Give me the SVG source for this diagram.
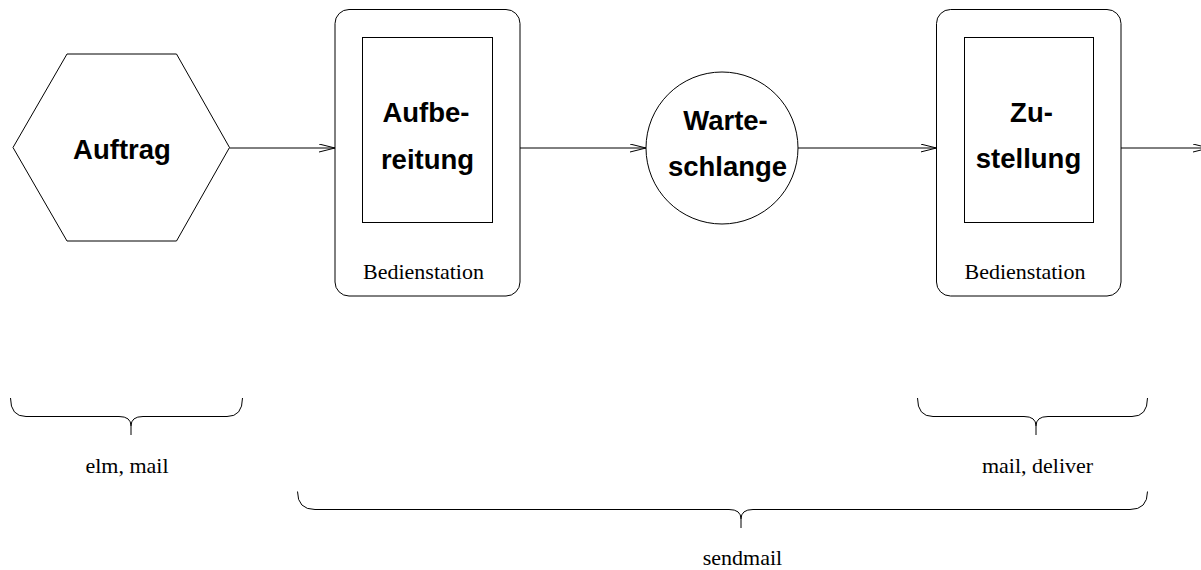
<svg xmlns="http://www.w3.org/2000/svg" width="1201" height="570" viewBox="0 0 1201 570">
  <style>
    .shape { fill: none; stroke: #000; stroke-width: 1; }
    .title { font-family: "Liberation Sans", Arial, sans-serif; font-weight: bold; font-size: 27.5px; fill: #000; text-anchor: middle; }
    .label { font-family: "Liberation Serif", "Times New Roman", serif; font-size: 22px; fill: #000; text-anchor: middle; }
    .edge { fill: none; stroke: #000; stroke-width: 1; }
  </style>
  <defs>
    <marker id="open-arrow" markerUnits="userSpaceOnUse" markerWidth="18" markerHeight="10" refX="16" refY="4.5" orient="auto">
      <path d="M0,0.5 L16,4.5 L0,8.5" fill="none" stroke="#000" stroke-width="1"/>
    </marker>
  </defs>
  <rect width="1201" height="570" fill="#fff"/>

  <!-- job: hexagon -->
  <g id="auftrag">
    <polygon class="shape" points="13,147.5 67,54 176.5,54 229.5,147.5 176.5,241 67,241"/>
    <text class="title" x="122" y="158.5">Auftrag</text>
  </g>

  <!-- first service station -->
  <g id="aufbereitung">
    <rect class="shape" x="335" y="9.5" width="185" height="286.5" rx="14" ry="14"/>
    <rect class="shape" x="362.5" y="37.5" width="130" height="185"/>
    <text class="title" x="426" y="122">Aufbe-</text>
    <text class="title" x="427.5" y="168.5">reitung</text>
    <text class="label" x="423.5" y="279">Bedienstation</text>
  </g>

  <!-- queue -->
  <g id="warteschlange">
    <circle class="shape" cx="722" cy="148" r="76"/>
    <text class="title" x="725.5" y="129.5">Warte-</text>
    <text class="title" x="727.5" y="176">schlange</text>
  </g>

  <!-- second service station -->
  <g id="zustellung">
    <rect class="shape" x="936.5" y="9.5" width="184.5" height="286.5" rx="14" ry="14"/>
    <rect class="shape" x="964.5" y="37.5" width="129" height="185"/>
    <text class="title" x="1031.5" y="121.5">Zu-</text>
    <text class="title" x="1028.5" y="167.5">stellung</text>
    <text class="label" x="1025" y="279">Bedienstation</text>
  </g>

  <!-- program braces -->
  <g id="brace-elm">
    <path class="shape" d="M10.5,398 Q10.5,416.5 26,416.5 L119,416.5 Q131,416.5 131,426 L131,435 M131,426 Q131,416.5 143,416.5 L227,416.5 Q242.5,416.5 242.5,398"/>
    <text class="label" x="127" y="473">elm, mail</text>
  </g>
  <g id="brace-deliver">
    <path class="shape" d="M917.5,398 Q917.5,416.5 933,416.5 L1024,416.5 Q1036,416.5 1036,426 L1036,435 M1036,426 Q1036,416.5 1048,416.5 L1132,416.5 Q1147.5,416.5 1147.5,398"/>
    <text class="label" x="1037.5" y="473">mail, deliver</text>
  </g>
  <g id="brace-sendmail">
    <path class="shape" d="M297.5,491.5 Q297.5,509.5 315,509.5 L729,509.5 Q741,509.5 741,519 L741,528 M741,519 Q741,509.5 753,509.5 L1130,509.5 Q1147.5,509.5 1147.5,491.5"/>
    <text class="label" x="742.5" y="565">sendmail</text>
  </g>

  <!-- flow connectors -->
  <g id="connectors">
    <line class="edge" x1="229.5" y1="148" x2="335" y2="148" marker-end="url(#open-arrow)"/>
    <line class="edge" x1="520" y1="148" x2="646" y2="148" marker-end="url(#open-arrow)"/>
    <line class="edge" x1="798" y1="148" x2="936.5" y2="148" marker-end="url(#open-arrow)"/>
    <line class="edge" x1="1121" y1="148" x2="1209" y2="148" marker-end="url(#open-arrow)"/>
  </g>
</svg>
